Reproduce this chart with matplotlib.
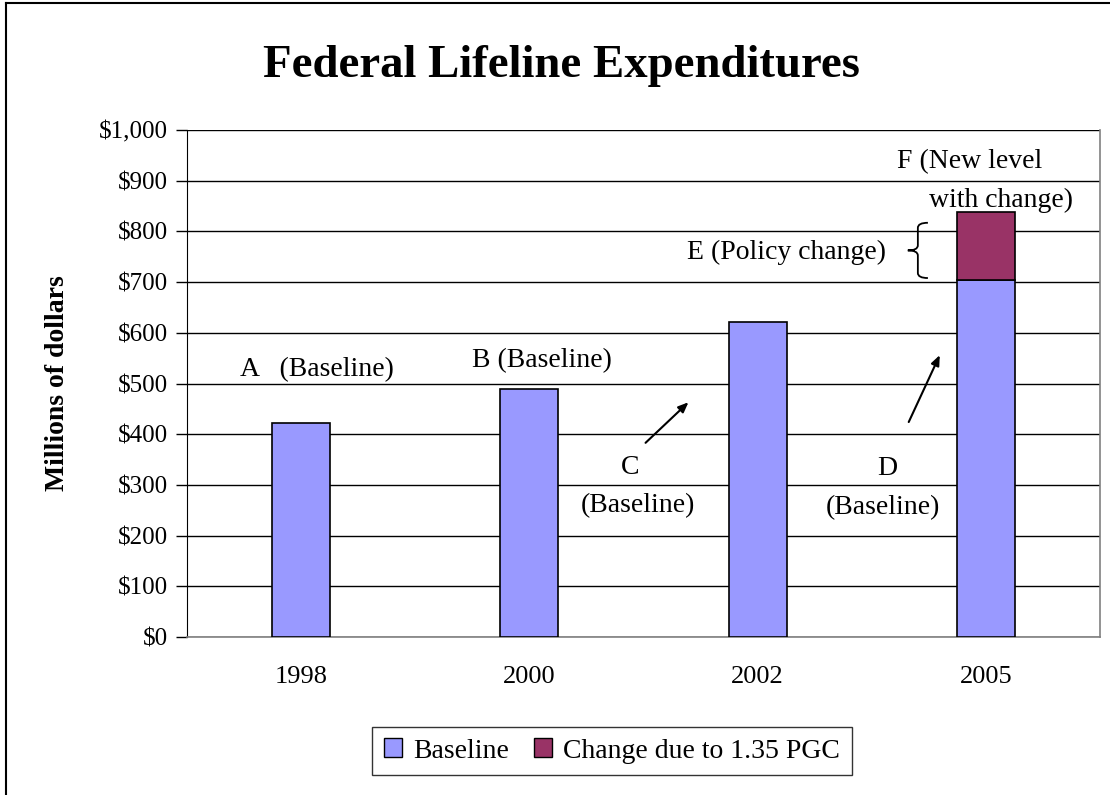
import matplotlib
matplotlib.use("Agg")
import matplotlib.pyplot as plt
from matplotlib.path import Path
from matplotlib.patches import PathPatch, Patch
from matplotlib.lines import Line2D
import numpy as np

years = ["1998", "2000", "2002", "2005"]
baseline = [422, 489, 621, 705]
change = [0, 0, 0, 133]
yticks = [0, 100, 200, 300, 400, 500, 600, 700, 800, 900, 1000]
ytick_labels = ["$0", "$100", "$200", "$300", "$400", "$500", "$600", "$700", "$800", "$900", "$1,000"]

plt.rcParams['font.family'] = ['Liberation Serif', 'DejaVu Serif']

fig = plt.figure(figsize=(11.1, 7.95), dpi=100)
ax = fig.add_axes([187/1110, 1-637/795, (1100-187)/1110, (637-130)/795])

x = np.arange(len(years))
c_base = "#9999FF"
c_chg = "#993366"
ax.bar(x, baseline, width=0.255, color=c_base, edgecolor="black", linewidth=1.2, zorder=3)
ax.bar(x[-1:], change[-1:], bottom=baseline[-1:], width=0.255, color=c_chg,
       edgecolor="black", linewidth=1.2, zorder=3)

ax.set_xlim(-0.5, len(years) - 0.5)
ax.set_ylim(0, 1000)
ax.set_yticks(yticks)
ax.set_yticklabels(ytick_labels, fontsize=18)
ax.set_xticks(x)
ax.set_xticklabels(years, fontsize=19)
ax.tick_params(axis='x', length=0, pad=21)
ax.tick_params(axis='y', length=8, width=1, direction='out', pad=6)
ax.yaxis.grid(True, color="black", linewidth=1)
ax.set_axisbelow(True)
ax.spines["top"].set_visible(False)
ax.spines["left"].set_color("black")
ax.spines["bottom"].set_color("#808080")
ax.spines["right"].set_color("#808080")
ax.spines["bottom"].set_linewidth(1.2)
ax.spines["right"].set_linewidth(1.2)

ax.set_ylabel("Millions of dollars", fontsize=20, fontweight="bold")
ax.yaxis.set_label_coords(-(187-70)/913, 0.5)

fig.text(561/1110, 1-77/795, "Federal Lifeline Expenditures", fontsize=33.7,
         fontweight="bold", ha="center", va="baseline")

fs = 20
ax.text(0.068, 527, "A   (Baseline)", fontsize=fs, ha="center", va="center")
ax.text(1.057, 546, "B (Baseline)", fontsize=fs, ha="center", va="center")
ax.text(1.443, 335, "C", fontsize=fs, ha="center", va="center")
ax.text(1.474, 260, "(Baseline)", fontsize=fs, ha="center", va="center")
ax.text(2.566, 333, "D", fontsize=fs, ha="center", va="center")
ax.text(2.548, 256, "(Baseline)", fontsize=fs, ha="center", va="center")
ax.text(2.127, 759, "E (Policy change)", fontsize=fs, ha="center", va="center")
ax.text(2.93, 937, "F (New level", fontsize=fs, ha="center", va="center", clip_on=False)
ax.text(3.066, 862, "with change)", fontsize=fs, ha="center", va="center", clip_on=False)

arrowprops = dict(arrowstyle="-|>,head_length=0.6,head_width=0.25", color="black", lw=1.5,
                  shrinkA=0, shrinkB=0)
ax.annotate("", xy=(1.697, 463), xytext=(1.509, 383), arrowprops=arrowprops)
ax.annotate("", xy=(2.798, 556), xytext=(2.662, 424), arrowprops=arrowprops)

# curly brace for policy change
tip_x, right_x = 2.658, 2.746
top_y, bot_y = 817, 708
mid_y = (top_y + bot_y) / 2
mx = (tip_x + right_x) / 2
k = 10
verts = [(right_x, top_y), (mx, top_y), (mx, top_y - k),
         (mx, mid_y + k), (mx, mid_y), (tip_x, mid_y),
         (mx, mid_y), (mx, mid_y - k),
         (mx, bot_y + k), (mx, bot_y), (right_x, bot_y)]
codes = [Path.MOVETO, Path.CURVE3, Path.CURVE3,
         Path.LINETO, Path.CURVE3, Path.CURVE3,
         Path.CURVE3, Path.CURVE3,
         Path.LINETO, Path.CURVE3, Path.CURVE3]
ax.add_patch(PathPatch(Path(verts, codes), fill=False, edgecolor="black", lw=1.3, zorder=4))

handles = [Patch(facecolor=c_base, edgecolor="black", label="Baseline"),
           Patch(facecolor=c_chg, edgecolor="black", label="Change due to 1.35 PGC")]
leg = fig.legend(handles=handles, loc="center", bbox_to_anchor=(612/1110, 1-751/795),
                 ncol=2, fontsize=20, frameon=True, fancybox=False, edgecolor="black",
                 handlelength=0.65, handleheight=0.65, handletextpad=0.4, columnspacing=0.9,
                 borderpad=0.42, borderaxespad=0)
leg.get_frame().set_linewidth(1.0)

fig.add_artist(Line2D([6/1110, 6/1110], [0, 1-3/795], color="black", lw=1.5, transform=fig.transFigure))
fig.add_artist(Line2D([6/1110, 1], [1-3/795, 1-3/795], color="black", lw=1.5, transform=fig.transFigure))

fig.savefig("out.png", dpi=100)
